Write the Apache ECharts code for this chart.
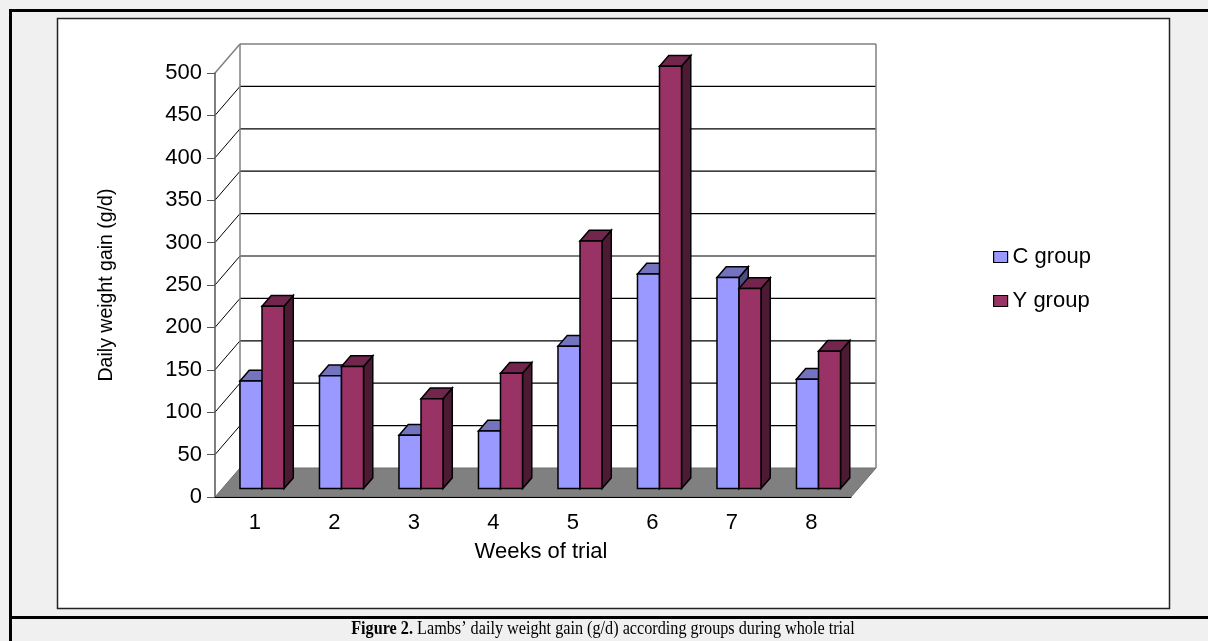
<!DOCTYPE html>
<html>
<head>
<meta charset="utf-8">
<script src="https://cdn.jsdelivr.net/npm/echarts@6/dist/echarts.min.js"></script>
<style>
  html, body { margin: 0; padding: 0; background: #f0f0f0; }
  #main { width: 1208px; height: 641px; }
</style>
</head>
<body>
<div id="main"></div>
<script>
var weeks = ['1', '2', '3', '4', '5', '6', '7', '8'];
var cGroup = [127, 133, 63, 68, 168, 253, 249, 129];
var yGroup = [215, 144, 106, 136, 292, 498, 236, 162];
var yTicks = [0, 50, 100, 150, 200, 250, 300, 350, 400, 450, 500];

var chartDom = document.getElementById('main');
var myChart = echarts.init(chartDom);
var option;

// depth of the floor / back wall, in pixels
var depthX = 25, depthY = -29;
var font = 'Liberation Sans, Arial, sans-serif';

function wallItem(params, api) {
  var v = api.value(1);
  var cs = params.coordSys;
  var left = cs.x, right = cs.x + cs.width;
  var y = api.coord([0, v])[1];
  var kids = [];
  if (v === 0) {
    kids.push({
      type: 'polygon',
      shape: { points: [[left, y], [left + depthX, y + depthY], [right + depthX, y + depthY], [right, y]] },
      style: { fill: '#808080', stroke: '#6e6e6e', lineWidth: 1 }
    });
  } else {
    var top = v === yTicks[yTicks.length - 1];
    var col = top ? '#808080' : '#000';
    kids.push({
      type: 'line',
      shape: { x1: left + depthX, y1: y + depthY, x2: right + depthX, y2: y + depthY },
      style: { stroke: col, lineWidth: top ? 1.5 : 1.2 }
    });
    kids.push({
      type: 'line',
      shape: { x1: left, y1: y, x2: left + depthX, y2: y + depthY },
      style: { stroke: col, lineWidth: top ? 1.5 : 1 }
    });
    if (top) {
      var y0 = api.coord([0, 0])[1];
      kids.push({
        type: 'line',
        shape: { x1: left + depthX, y1: y + depthY, x2: left + depthX, y2: y0 + depthY },
        style: { stroke: '#808080', lineWidth: 1.5 }
      });
      kids.push({
        type: 'line',
        shape: { x1: right + depthX, y1: y + depthY, x2: right + depthX, y2: y0 + depthY },
        style: { stroke: '#808080', lineWidth: 1.5 }
      });
    }
  }
  return { type: 'group', children: kids };
}

function barItem(slot, front, topCol, sideCol) {
  return function (params, api) {
    var i = api.value(0), v = api.value(1);
    var base = api.coord([i, 0]);
    var tip = api.coord([i, v]);
    var band = api.size([1, 0])[0];
    var w = band * 0.277;
    // bars stand a little way back on the floor
    var ox = depthX * 0.29, oy = depthY * 0.29;
    var dx = depthX * 0.37, dy = depthY * 0.37;
    var fx = base[0] + ox + (slot - 1) * w;
    var ty = tip[1] + oy, by = base[1] + oy;
    var st = { stroke: '#000', lineWidth: 1.5 };
    return {
      type: 'group',
      children: [
        { type: 'polygon', shape: { points: [[fx + w, ty], [fx + w + dx, ty + dy], [fx + w + dx, by + dy], [fx + w, by]] },
          style: Object.assign({ fill: sideCol }, st) },
        { type: 'polygon', shape: { points: [[fx, ty], [fx + w, ty], [fx + w + dx, ty + dy], [fx + dx, ty + dy]] },
          style: Object.assign({ fill: topCol }, st) },
        { type: 'rect', shape: { x: fx, y: ty, width: w, height: by - ty },
          style: Object.assign({ fill: front }, st) }
      ]
    };
  };
}

option = {
  animation: false,
  textStyle: { fontFamily: font },
  graphic: [
    { type: 'rect', shape: { x: 57.5, y: 18.5, width: 1112, height: 590 },
      style: { fill: '#fff', stroke: '#222', lineWidth: 1.5 }, z: -10 },
    { type: 'rect', shape: { x: 9, y: 9, width: 1200, height: 3 }, style: { fill: '#000' } },
    { type: 'rect', shape: { x: 9, y: 9, width: 3, height: 640 }, style: { fill: '#000' } },
    { type: 'rect', shape: { x: 9, y: 616, width: 1200, height: 3 }, style: { fill: '#000' } },
    { type: 'text', x: 603, y: 629, scaleX: 0.9,
      style: {
        text: '{b|Figure 2.} Lambs’ daily weight gain (g/d) according groups during whole trial',
        fontFamily: 'Liberation Serif, Times New Roman, serif', fontSize: 18, fill: '#000',
        align: 'center', verticalAlign: 'middle',
        rich: { b: { fontWeight: 'bold', fontFamily: 'Liberation Serif, Times New Roman, serif', fontSize: 18 } }
      } }
  ],
  legend: {
    data: ['C group', 'Y group'],
    orient: 'vertical',
    left: 988,
    top: 241,
    icon: 'rect',
    itemWidth: 14,
    itemHeight: 11,
    itemGap: 22,
    itemStyle: { borderColor: '#000', borderWidth: 1.2 },
    textStyle: { fontSize: 22, color: '#000', fontFamily: font }
  },
  grid: { left: 215, top: 73, right: 357, bottom: 144 },
  xAxis: {
    type: 'category',
    data: weeks,
    z: 5,
    name: 'Weeks of trial',
    nameLocation: 'middle',
    nameGap: 44,
    nameTextStyle: { fontSize: 22, color: '#000', fontFamily: font, padding: [0, 0, 0, 16] },
    axisLine: { lineStyle: { color: '#000', width: 1 } },
    axisTick: { length: 8, lineStyle: { color: '#000' } },
    axisLabel: { fontSize: 22, color: '#000', margin: 15, fontFamily: font },
    splitLine: { show: false }
  },
  yAxis: {
    type: 'value',
    min: 0,
    max: 500,
    interval: 50,
    z: 5,
    name: 'Daily weight gain (g/d)',
    nameLocation: 'middle',
    nameRotate: 90,
    nameGap: 98,
    nameTextStyle: { fontSize: 19.5, color: '#000', fontFamily: font },
    axisLine: { show: true, lineStyle: { color: '#555', width: 1.5 } },
    axisTick: { show: true, length: 8, lineStyle: { color: '#555' } },
    axisLabel: { fontSize: 22, color: '#000', margin: 13, fontFamily: font },
    splitLine: { show: false }
  },
  series: [
    {
      name: 'walls',
      type: 'custom',
      z: 1,
      silent: true,
      clip: false,
      renderItem: wallItem,
      data: yTicks.map(function (t) { return [0, t]; })
    },
    {
      name: 'C group',
      type: 'custom',
      z: 3,
      clip: false,
      itemStyle: { color: '#9999FF', borderColor: '#000' },
      renderItem: barItem(0, '#9999FF', '#7373BF', '#4D4D80'),
      data: cGroup.map(function (v, i) { return [i, v]; })
    },
    {
      name: 'Y group',
      type: 'custom',
      z: 3,
      clip: false,
      itemStyle: { color: '#993366', borderColor: '#000' },
      renderItem: barItem(1, '#993366', '#73264D', '#4D1A33'),
      data: yGroup.map(function (v, i) { return [i, v]; })
    }
  ]
};

option && myChart.setOption(option);
</script>
</body>
</html>
